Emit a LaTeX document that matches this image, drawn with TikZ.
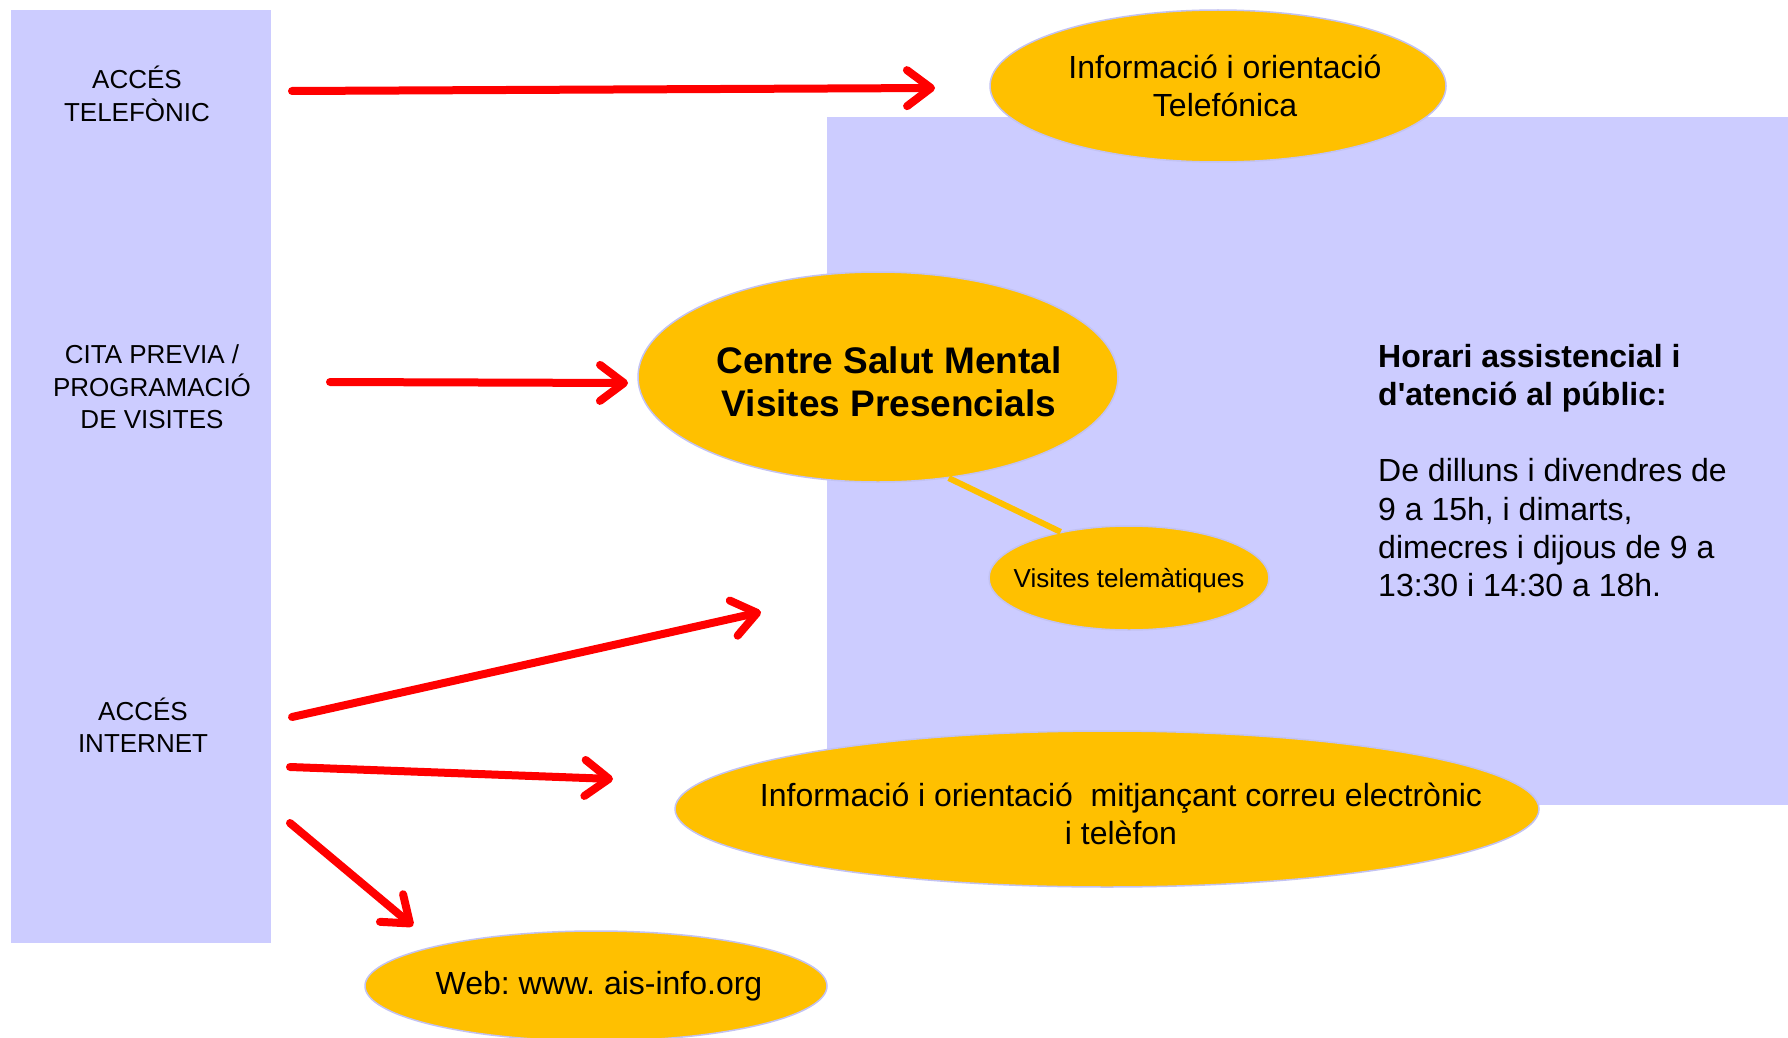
\documentclass[tikz,border=0pt]{standalone}
\usepackage{fontspec}
\setmainfont{Liberation Sans}
\usepackage{tikz}
\usetikzlibrary{shapes.geometric,arrows.meta}

\definecolor{lavender}{HTML}{CCCCFF}
\definecolor{gold}{HTML}{FFC000}
\definecolor{rim}{HTML}{C2C2F2}

\tikzset{
	bubble/.style={ellipse, draw=rim, line width=1.5pt, fill=gold, inner sep=0pt},
	sidetext/.style={align=center, inner sep=0pt, font=\fontsize{26}{32.5}\selectfont},
	bubbletext/.style={align=center, inner sep=0pt, font=\fontsize{32}{38}\selectfont},
	redarrow/.style={draw=red, line width=8pt, line cap=round, -{Straight Barb[length=24pt, width=36pt, round]}},
}

\begin{document}
\frenchspacing
\begin{tikzpicture}[x=1pt, y=-1pt]
	\useasboundingbox (0,0) rectangle (1788,1038);

	% background panels
	\fill[lavender] (11,10) rectangle (271,943);
	\fill[lavender] (827,117) rectangle (1788,805);

	% entry points
	\node[sidetext] (telefon) at (137,94) {ACCÉS\\TELEFÒNIC};
	\node[sidetext] (cita) at (152,387) {CITA PREVIA /\\PROGRAMACIÓ\\DE VISITES};
	\node[sidetext] (internet) at (143,725) {ACCÉS\\INTERNET};

	% services
	\node[bubble, minimum width=456, minimum height=152] (infotel) at (1218,86) {};
	\node[bubble, minimum width=480, minimum height=210] (csm) at (878,377) {};
	\node[bubble, minimum width=280, minimum height=104] (telematic) at (1129,578) {};
	\node[bubble, minimum width=864, minimum height=156] (infomail) at (1107,809) {};
	\node[bubble, minimum width=462, minimum height=110] (web) at (596,986) {};

	\draw[gold, line width=6pt] (csm.-55) -- (telematic.146);

	\node[bubbletext] (infoteltext) at ([xshift=7pt]infotel.center) {Informació i orientació\\Telefónica};
	\node[align=center, inner sep=0pt, font=\bfseries\fontsize{37}{43}\selectfont] (csmtext) at ([xshift=11pt, yshift=-5pt]csm.center) {Centre Salut Mental\\Visites Presencials};
	\node[sidetext] (telematictext) at ([yshift=-3pt]telematic.center) {Visites telemàtiques};
	\node[bubbletext] (infomailtext) at ([xshift=14pt, yshift=-5pt]infomail.center) {Informació i orientació\ \ mitjançant correu electrònic\\i telèfon};
	\node[bubbletext] (webtext) at ([xshift=3pt]web.center) {Web: www. ais-info.org};

	% opening hours
	\node[anchor=north west, align=left, inner sep=0pt, font=\fontsize{32}{38.3}\selectfont] (horari) at (1378,344)
		{{\bfseries Horari assistencial i}\\{\bfseries d\textquotesingle atenció al públic:}\\[38pt]
		De dilluns i divendres de\\9 a 15h, i dimarts,\\dimecres i dijous de 9 a\\13:30 i 14:30 a 18h.};

	% arrows
	\coordinate (t1) at (292,91);
	\coordinate (h1) at (935,88);
	\coordinate (t2) at (330,382);
	\coordinate (h2) at (628,383);
	\coordinate (t3) at (292,717);
	\coordinate (h3) at (761,612);
	\coordinate (t4) at (290,767);
	\coordinate (h4) at (613,779);
	\coordinate (t5) at (290,823);
	\coordinate (h5) at (413,926);

	\draw[redarrow] (t1) -- (h1);
	\draw[redarrow] (t2) -- (h2);
	\draw[redarrow] (t3) -- (h3);
	\draw[redarrow] (t4) -- (h4);
	\draw[redarrow] (t5) -- (h5);
\end{tikzpicture}
\end{document}
